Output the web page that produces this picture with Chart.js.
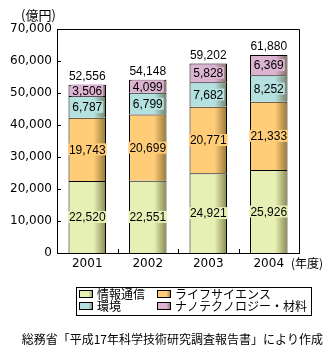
<!DOCTYPE html>
<html lang="ja">
<head>
  <meta charset="UTF-8" />
  <title>研究費の推移</title>
  <script src="https://cdn.jsdelivr.net/npm/chart.js"></script>
  <style>
    body {
      margin: 0;
      background-color: #fff;
    }
    #wrap {
      width: 334px;
      height: 354px;
    }
  </style>
</head>
<body>
  <div id="wrap"><canvas id="rdChart" width="334" height="354"></canvas></div>

  <script>
    const years = ['2001', '2002', '2003', '2004'];
    const infoComm = [22520, 22551, 24921, 25926];
    const lifeSci = [19743, 20699, 20771, 21333];
    const environ = [6787, 6799, 7682, 8252];
    const nanoMat = [3506, 4099, 5828, 6369];
    const totals = [52556, 54148, 59202, 61880];
    const seriesNames = ['情報通信', 'ライフサイエンス', '環境', 'ナノテクノロジー・材料'];
    const yTicks = [0, 10000, 20000, 30000, 40000, 50000, 60000, 70000];

    const colors = ['#e6f0b4', '#ffcc78', '#b4e0e0', '#dcb4d2'];
    const jp = '"Noto Sans CJK JP", sans-serif';

    function shade(c, l, t, w, h) {
      const g = c.createLinearGradient(l, 0, l + w, 0);
      g.addColorStop(0, 'rgba(60,50,0,0)');
      g.addColorStop(0.68, 'rgba(60,50,0,0)');
      g.addColorStop(1, 'rgba(60,50,0,0.5)');
      c.fillStyle = g;
      c.fillRect(l, t, w, h);
    }

    // 陰影・ラベル・枠・凡例
    const decor = {
      id: 'decor',
      afterDatasetsDraw(chart) {
        const c = chart.ctx;
        const area = chart.chartArea;
        const xs = chart.scales.x, ys = chart.scales.y;
        c.save();

        chart.data.datasets.forEach((ds, di) => {
          chart.getDatasetMeta(di).data.forEach(bar => {
            const p = bar.getProps(['x', 'y', 'base', 'width'], true);
            const l = p.x - p.width / 2;
            const top = Math.min(p.y, p.base), bot = Math.max(p.y, p.base);
            shade(c, l + 1, top + 1, p.width - 2, bot - top - 1);
          });
        });

        // 値ラベル
        c.font = '12px "Liberation Sans", Arial, sans-serif';
        c.textAlign = 'center';
        c.textBaseline = 'middle';
        chart.data.datasets.forEach((ds, di) => {
          chart.getDatasetMeta(di).data.forEach((bar, i) => {
            const p = bar.getProps(['x', 'y', 'base'], true);
            const txt = ds.data[i].toLocaleString('en-US');
            const cy = (p.y + p.base) / 2;
            const w = c.measureText(txt).width + 2;
            c.fillStyle = colors[di];
            c.fillRect(p.x - w / 2, cy - 6, w, 12);
            c.fillStyle = '#000';
            c.fillText(txt, p.x, cy + 1);
          });
        });
        const topMeta = chart.getDatasetMeta(chart.data.datasets.length - 1);
        topMeta.data.forEach((bar, i) => {
          c.fillStyle = '#000';
          c.fillText(totals[i].toLocaleString('en-US'), bar.x, bar.y - 8);
        });

        // 枠と目盛り
        c.strokeStyle = '#000';
        c.lineWidth = 1;
        c.beginPath();
        c.moveTo(area.left, Math.round(area.top) + 0.5);
        c.lineTo(Math.round(area.right) + 0.5, Math.round(area.top) + 0.5);
        c.lineTo(Math.round(area.right) + 0.5, area.bottom);
        yTicks.slice(1, -1).forEach(v => {
          const y = Math.round(ys.getPixelForValue(v)) + 0.5;
          c.moveTo(area.left, y);
          c.lineTo(area.left + 4, y);
        });
        for (let i = 0; i < years.length - 1; i++) {
          const x = Math.round((xs.getPixelForValue(i) + xs.getPixelForValue(i + 1)) / 2) + 0.5;
          c.moveTo(x, area.bottom);
          c.lineTo(x, area.bottom - 4);
        }
        c.stroke();
        c.restore();
      },
      afterDraw(chart) {
        const c = chart.ctx;
        c.save();
        c.fillStyle = '#000';
        c.textBaseline = 'middle';
        c.textAlign = 'left';
        c.font = '13px ' + jp;
        c.fillText('(億円)', 21, 15);
        c.font = '12px ' + jp;
        c.fillText('(年度)', 291, 263);

        // 凡例
        c.strokeStyle = '#000';
        c.lineWidth = 1;
        c.strokeRect(76.5, 287.5, 235, 28);
        const colX = [79, 157];
        const rowY = [294, 306];
        chart.data.datasets.forEach((ds, di) => {
          const x = colX[di % 2], y = rowY[Math.floor(di / 2)];
          c.fillStyle = colors[di];
          c.fillRect(x, y - 4, 14, 8);
          shade(c, x, y - 4, 14, 8);
          c.strokeRect(x + 0.5, y - 3.5, 13, 7);
          c.fillStyle = '#000';
          c.font = '12px ' + jp;
          c.fillText(ds.label, x + 18, y);
        });

        c.textAlign = 'right';
        c.fillText('総務省「平成17年科学技術研究調査報告書」により作成', 323, 339);
        c.restore();
      }
    };

    const seriesData = [infoComm, lifeSci, environ, nanoMat];
    const ctx = document.getElementById('rdChart').getContext('2d');
    new Chart(ctx, {
      type: 'bar',
      data: {
        labels: years,
        datasets: seriesData.map((d, i) => ({
          label: seriesNames[i],
          data: d,
          backgroundColor: colors[i],
          borderColor: '#000',
          borderWidth: 1,
          barPercentage: 0.62,
          categoryPercentage: 1
        }))
      },
      options: {
        responsive: false,
        animation: false,
        layout: { padding: { top: 29, right: 35, left: 0, bottom: 0 } },
        plugins: {
          legend: { display: false },
          tooltip: { enabled: false }
        },
        scales: {
          x: {
            stacked: true,
            grid: { display: false, drawTicks: false },
            border: { display: true, color: '#000', width: 1 },
            ticks: {
              color: '#000',
              padding: 4,
              font: { family: '"DejaVu Sans", sans-serif', size: 12 }
            },
            afterFit: s => { s.height = 101; }
          },
          y: {
            stacked: true,
            min: 0,
            max: 70000,
            grid: { display: false, drawTicks: false },
            border: { display: true, color: '#000', width: 1 },
            afterBuildTicks: s => { s.ticks = yTicks.map(v => ({ value: v })); },
            ticks: {
              color: '#000',
              padding: 5,
              font: { family: '"DejaVu Sans", sans-serif', size: 12 },
              callback: v => v.toLocaleString('en-US')
            },
            afterFit: s => { s.width = 57; }
          }
        }
      },
      plugins: [decor]
    });
  </script>
</body>
</html>
